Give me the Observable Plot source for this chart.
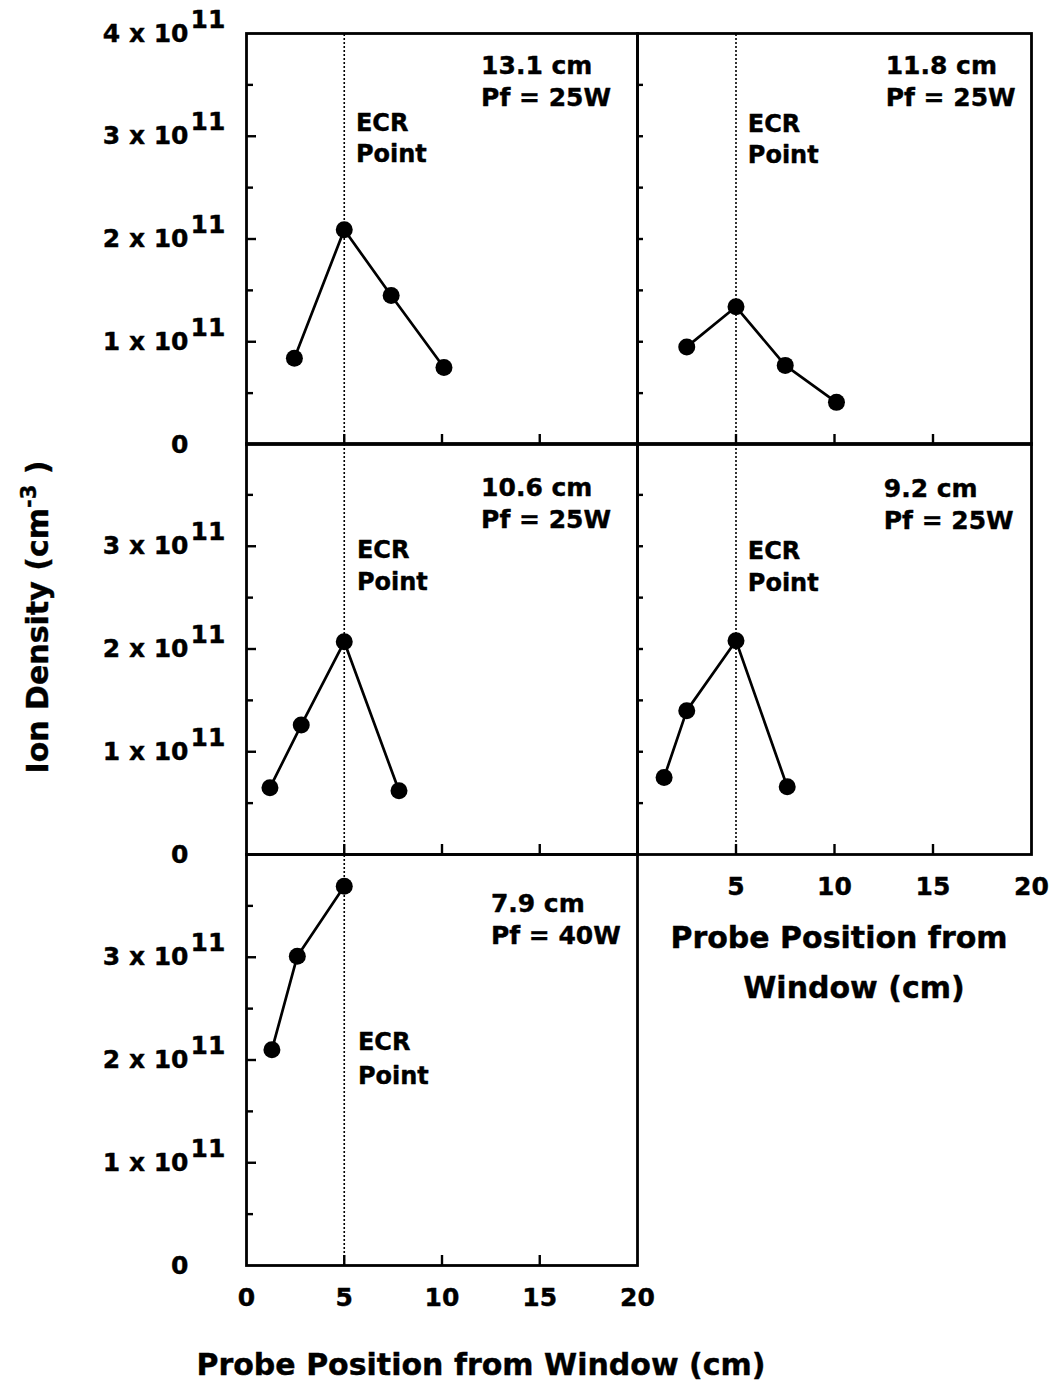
<!DOCTYPE html>
<html><head><meta charset="utf-8">
<script src="https://cdn.jsdelivr.net/npm/d3@7"></script>
<script src="https://cdn.jsdelivr.net/npm/@observablehq/plot@0.6"></script>
<style>
body{margin:0;background:#fff;}
#wrap{position:relative;width:1052px;height:1384px;background:#fff;font-family:"DejaVu Sans",sans-serif;font-weight:bold;color:#000;overflow:hidden}
.ttl{position:absolute;white-space:nowrap;font-weight:bold;transform:translate(-50%,-50%);line-height:1.2;-webkit-text-stroke:0.4px #000}
.ttl sup{font-size:0.7em;vertical-align:0.55em;line-height:0}
</style></head><body><div id="wrap"></div>
<script>
// ---- data ----
const panelDistances = ["13.1 cm", "11.8 cm", "10.6 cm", "9.2 cm", "7.9 cm"];
const panelPowers = ["Pf = 25W", "Pf = 25W", "Pf = 25W", "Pf = 25W", "Pf = 40W"];
const x_131 = [2.45, 5.0, 7.4, 10.1];
const y_131 = [0.84e11, 2.09e11, 1.45e11, 0.75e11];
const x_118 = [2.5, 5.0, 7.5, 10.1];
const y_118 = [0.95e11, 1.34e11, 0.77e11, 0.41e11];
const x_106 = [1.2, 2.8, 5.0, 7.8];
const y_106 = [0.65e11, 1.26e11, 2.07e11, 0.62e11];
const x_92 = [1.35, 2.5, 5.0, 7.6];
const y_92 = [0.75e11, 1.40e11, 2.08e11, 0.66e11];
const x_79 = [1.3, 2.6, 5.0];
const y_79 = [2.10e11, 3.01e11, 3.69e11];
const ecrPosition = 5;
const xTicks = [0, 5, 10, 15, 20];
const yTicks = [0, 1e11, 2e11, 3e11, 4e11];
const yMinorTicks = [0.5e11, 1.5e11, 2.5e11, 3.5e11];
const yTickMantissa = ["0", "1", "2", "3", "4"];
const yTickExponent = "11";
const xTitle = "Probe Position from Window (cm)";
const xTitleLine1 = "Probe Position from";
const xTitleLine2 = "Window (cm)";

const seriesX = [x_131, x_118, x_106, x_92, x_79];
const seriesY = [y_131, y_118, y_106, y_92, y_79];

// ---- layout ----
const colLeft = [246, 637], colWidth = [391, 394];
const rowTop = [33, 443, 854], rowHeight = 411;
const panels = [
  {col:0,row:0, ann:[12.0,3.68e11,3.37e11], ecr:[5.6,3.13e11,2.82e11], yTop:true},
  {col:1,row:0, ann:[12.6,3.68e11,3.37e11], ecr:[5.6,3.12e11,2.81e11]},
  {col:0,row:1, ann:[12.0,3.57e11,3.26e11], ecr:[5.65,2.96e11,2.65e11]},
  {col:1,row:1, ann:[12.5,3.56e11,3.25e11], ecr:[5.6,2.95e11,2.64e11], xLabels:true},
  {col:0,row:2, ann:[12.5,3.52e11,3.21e11], ecr:[5.7,2.17e11,1.84e11], xLabels:true, xZero:true}
];
const FONT = "DejaVu Sans";
const TXT = {fontWeight: "bold", fill: "#000", stroke: "#000", strokeWidth: 0.4};
const wrap = document.getElementById("wrap");

panels.forEach((p, i) => {
  const W = colWidth[p.col], H = rowHeight;
  const pxPerX = W / 20, pxPerY = H / 4e11;
  const left = p.col === 0;
  const majLen = left ? 10 : 6, minLen = left ? 7 : 6;
  const data = seriesX[i].map((x, j) => ({x, y: seriesY[i][j]}));
  const marks = [
    Plot.ruleX([ecrPosition], {y1: 0, y2: 4e11, stroke: "#000", strokeWidth: 1.6, strokeDasharray: "2,2"}),
    Plot.ruleY(yTicks.slice(1, 4), {x1: 0, x2: majLen / pxPerX, stroke: "#000", strokeWidth: 2.4}),
    Plot.ruleY(yMinorTicks, {x1: 0, x2: minLen / pxPerX, stroke: "#000", strokeWidth: 2.4}),
    Plot.ruleX(xTicks.slice(1, 4), {y1: 0, y2: 10 / pxPerY, stroke: "#000", strokeWidth: 2.4}),
    Plot.frame({stroke: "#000", strokeWidth: 2.8}),
    Plot.line(data, {x: "x", y: "y", stroke: "#000", strokeWidth: 2.7}),
    Plot.dot(data, {x: "x", y: "y", r: 8.5, fill: "#000", stroke: "none"}),
    Plot.text([panelDistances[i]], {x: () => p.ann[0], y: () => p.ann[1], text: d => d, textAnchor: "start", fontSize: 25, ...TXT}),
    Plot.text([panelPowers[i]], {x: () => p.ann[0], y: () => p.ann[2], text: d => d, textAnchor: "start", fontSize: 25, ...TXT}),
    Plot.text(["ECR"], {x: () => p.ecr[0], y: () => p.ecr[1], text: d => d, textAnchor: "start", fontSize: 24, ...TXT}),
    Plot.text(["Point"], {x: () => p.ecr[0], y: () => p.ecr[2], text: d => d, textAnchor: "start", fontSize: 24, ...TXT})
  ];
  if (left) {
    const idx = p.yTop ? [0, 1, 2, 3, 4] : [0, 1, 2, 3];
    marks.push(Plot.text(idx, {x: () => 0, y: k => yTicks[k], text: k => k === 0 ? yTickMantissa[k] : `${yTickMantissa[k]} x 10`, textAnchor: "end", dx: -58, fontSize: 25, ...TXT}));
    marks.push(Plot.text(idx.slice(1), {x: () => 0, y: k => yTicks[k], text: () => yTickExponent, textAnchor: "start", dx: -56, dy: -14, fontSize: 25, ...TXT}));
  }
  if (p.xLabels) {
    const vals = p.xZero ? xTicks : xTicks.slice(1);
    marks.push(Plot.text(vals, {x: d => d, y: () => 0, text: d => String(d), dy: 32, fontSize: 25, ...TXT}));
  }
  const svg = Plot.plot({
    width: W, height: H,
    marginLeft: 0, marginRight: 0, marginTop: 0, marginBottom: 0,
    x: {domain: [0, 20], axis: null},
    y: {domain: [0, 4e11], axis: null},
    style: {fontFamily: FONT, fontWeight: "bold", overflow: "visible", background: "none"},
    marks
  });
  svg.style.position = "absolute";
  svg.style.left = colLeft[p.col] + "px";
  svg.style.top = rowTop[p.row] + "px";
  wrap.appendChild(svg);
});

function addTitle(html, x, y, size, rotate) {
  const d = document.createElement("div");
  d.className = "ttl";
  d.innerHTML = html;
  d.style.left = x + "px";
  d.style.top = y + "px";
  d.style.fontSize = size + "px";
  if (rotate) d.style.transform = "translate(-50%,-50%) rotate(-90deg)";
  wrap.appendChild(d);
}
addTitle("Ion Density (cm<sup>-3</sup> )", 38, 617, 30, true);
addTitle(xTitle, 481, 1365, 30);
addTitle(xTitleLine1, 839, 938, 30);
addTitle(xTitleLine2, 854, 988, 30);
</script></body></html>
